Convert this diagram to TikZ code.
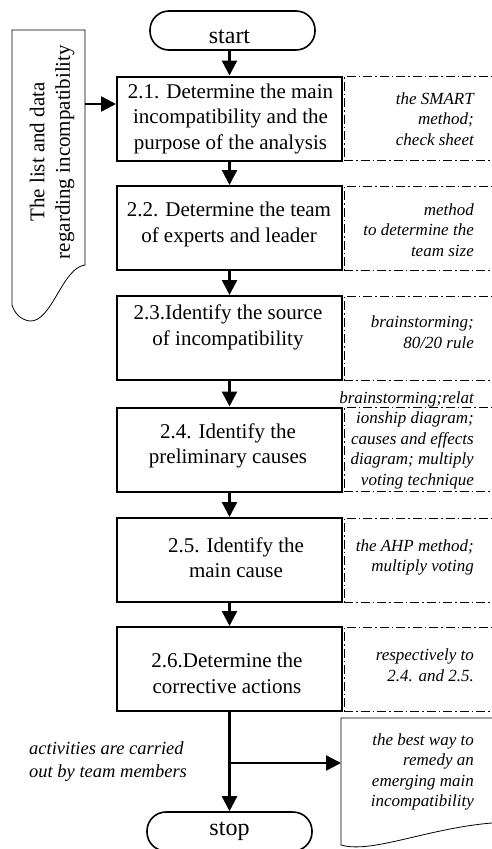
\documentclass[tikz,border=0pt]{standalone}
\usepackage{fontspec}
\setmainfont{Liberation Serif}
\usetikzlibrary{arrows.meta}
\begin{document}
\begin{tikzpicture}[x=1pt,y=-1pt,
 mainbox/.style={draw,line width=2pt,minimum width=225pt,minimum height=84pt,inner sep=0pt},
 term/.style={draw,line width=1.6pt,rounded corners=19pt,minimum width=165pt,minimum height=39pt,inner sep=0pt},
 toolbox/.style={draw,line width=0.8pt,dash pattern=on 9pt off 3pt on 1.5pt off 3pt,minimum width=170pt,minimum height=84pt,inner sep=0pt},
 doc/.style={draw,line width=0.8pt},
 maintext/.style={font=\fontsize{21}{25.5}\selectfont,align=center,inner sep=0pt},
 termtext/.style={font=\fontsize{24}{28}\selectfont,anchor=base,inner sep=0pt},
 tooltext/.style={font=\fontsize{17}{20.5}\selectfont\itshape,align=right,anchor=east,inner sep=0pt},
 flow/.style={line width=2.4pt,-{Triangle[length=15pt,width=15pt]}}]
\useasboundingbox (0,0) rectangle (491,849);

% terminals
\node[term] (start) at (232.5,30.5) {};
\node[termtext] (tstart) at (229.5,43) {start};
\node[term] (stop) at (229.5,831.5) {};
\node[termtext] (tstop) at (229.5,835) {stop};

% main boxes
\node[mainbox] (b21) at (229.5,118.5) {};
\node[mainbox] (b22) at (229.5,228) {};
\node[mainbox] (b23) at (229.5,338) {};
\node[mainbox] (b24) at (229.5,449.5) {};
\node[mainbox] (b25) at (229.5,560) {};
\node[mainbox] (b26) at (229.5,669) {};

\node[maintext] (t21) at (230.5,118.5) {2.1. Determine the main\\incompatibility and the\\purpose of the analysis};
\node[maintext] (t22) at (229,224.5) {2.2. Determine the team\\of experts and leader};
\node[maintext] (t23) at (228,327.5) {2.3.Identify the source\\of incompatibility};
\node[maintext] (t24) at (228,446) {2.4. Identify the\\preliminary causes};
\node[maintext] (t25) at (236,557.5) {2.5. Identify the\\main cause};
\node[maintext] (t26) at (227,673.5) {2.6.Determine the\\corrective actions};

% tool boxes
\node[toolbox] (d21) at (429,118.5) {};
\node[toolbox] (d22) at (429,228) {};
\node[toolbox] (d23) at (429,338) {};
\node[toolbox] (d24) at (429,449.5) {};
\node[toolbox] (d25) at (429,560) {};
\node[toolbox] (d26) at (429,669) {};

\node[tooltext] (x21) at (474,119) {the SMART\\method;\\check sheet};
\node[tooltext] (x22) at (474,230) {method\\to determine the\\team size};
\node[tooltext] (x23) at (474,332) {brainstorming;\\80/20 rule};
\node[tooltext] (x24) at (474,440) {brainstorming;relat\\ionship diagram;\\causes and effects\\diagram; multiply\\voting technique};
\node[tooltext] (x25) at (474,557.5) {the AHP method;\\multiply voting};
\node[tooltext] (x26) at (474,665) {respectively to\\2.4. and 2.5.};

% left document
\draw[doc] (12,30) -- (85,30) -- (85,265) .. controls (62,268) and (52,322) .. (30,321) .. controls (20,320) and (14,312) .. (12,305) -- cycle;
\node[maintext,rotate=90] (ltext) at (52,152) {The list and data\\regarding incompatibility};

% bottom right document
\draw[doc] (341,718) -- (515,718) -- (515,822) .. controls (440,822) and (375,855) .. (341,845) -- cycle;
\node[tooltext] (x27) at (474,772) {the best way to\\remedy an\\emerging main\\incompatibility};

\node[font=\fontsize{18.5}{23}\selectfont\itshape,align=left,anchor=west,inner sep=0pt] (act) at (29,761.5) {activities are carried\\out by team members};

% connectors
\coordinate (ldocout) at (85,104);
\coordinate (br) at (229.5,763);
\coordinate (docin) at (341,763);
\draw[flow] (b21.north |- start.south) -- (b21.north);
\draw[flow] (b21) -- (b22);
\draw[flow] (b22) -- (b23);
\draw[flow] (b23) -- (b24);
\draw[flow] (b24) -- (b25);
\draw[flow] (b25) -- (b26);
\draw[flow] (b26) -- (stop);
\draw[flow] (br) -- (docin);
\draw[flow] (ldocout) -- (b21.west |- ldocout);
\end{tikzpicture}
\end{document}
